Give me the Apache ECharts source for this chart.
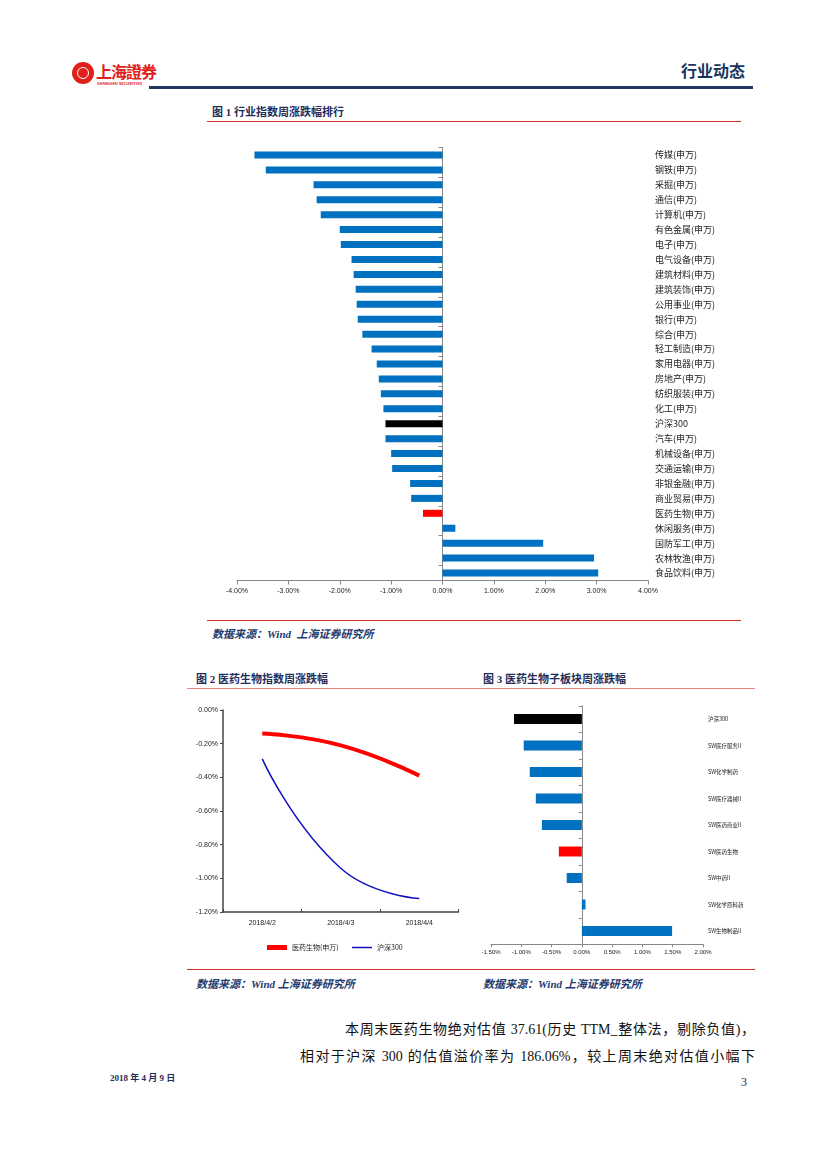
<!DOCTYPE html>
<html><head><meta charset="utf-8">
<script src="https://cdn.jsdelivr.net/npm/echarts@6/dist/echarts.min.js"></script>
<style>
html,body{margin:0;padding:0;background:#fff;}
body{width:827px;height:1169px;position:relative;overflow:hidden;font-family:"Noto Sans CJK SC","Liberation Serif",serif;}
.abs{position:absolute;}
.ttl{font-size:11px;font-weight:bold;color:#1F2D5A;white-space:nowrap;font-family:"Liberation Serif","Noto Sans CJK SC",serif;}
.src{font-size:11px;font-weight:bold;font-style:italic;color:#1F3A6E;white-space:nowrap;font-family:"Liberation Serif","Noto Sans CJK SC",serif;}
.body{font-size:14px;color:#111;white-space:nowrap;font-family:"Liberation Serif","Noto Sans CJK SC",serif;text-align:justify;text-align-last:justify;}
</style></head>
<body>
<!-- header -->
<div class="abs" style="left:72px;top:62px;width:22px;height:22px;border-radius:50%;background:#E0201B;"></div>
<div class="abs" style="left:77px;top:67px;width:12px;height:12px;border-radius:50%;border:1.5px solid #fff;box-sizing:border-box;"></div>
<div class="abs" style="left:96px;top:62px;font-size:16px;font-weight:bold;color:#E0201B;letter-spacing:-1px;font-family:'Noto Sans CJK SC';line-height:18px;">上海證券</div>
<div class="abs" style="left:97px;top:81px;font-size:4px;font-weight:bold;color:#E0201B;line-height:5px;white-space:nowrap;">SHANGHAI SECURITIES</div>
<div class="abs" style="left:681px;top:60px;font-size:16px;font-weight:bold;color:#17365D;font-family:'Noto Sans CJK SC';line-height:20px;">行业动态</div>
<div class="abs" style="left:149px;top:86px;width:604px;height:3px;background:#1F3864;"></div>

<!-- figure 1 -->
<div class="abs ttl" style="left:212px;top:103px;">图 1 行业指数周涨跌幅排行</div>
<div class="abs" style="left:207px;top:121px;width:534px;height:1px;background:#D9312B;"></div>
<div id="c1" class="abs" style="left:200px;top:140px;width:580px;height:470px;"></div>
<div class="abs" style="left:207px;top:620px;width:534px;height:1px;background:#D9312B;"></div>
<div class="abs src" style="left:212px;top:625px;">数据来源：Wind&nbsp;&nbsp;上海证券研究所</div>

<!-- figures 2 and 3 -->
<div class="abs ttl" style="left:196px;top:670px;">图 2 医药生物指数周涨跌幅</div>
<div class="abs ttl" style="left:483px;top:670px;">图 3 医药生物子板块周涨跌幅</div>
<div class="abs" style="left:187px;top:688px;width:568px;height:1px;background:#E8877F;"></div>
<div id="c2" class="abs" style="left:180px;top:695px;width:290px;height:265px;"></div>
<div id="c3" class="abs" style="left:470px;top:695px;width:290px;height:265px;"></div>
<div class="abs" style="left:187px;top:969px;width:568px;height:1px;background:#D9312B;"></div>
<div class="abs src" style="left:196px;top:975px;">数据来源：Wind 上海证券研究所</div>
<div class="abs src" style="left:483px;top:975px;">数据来源：Wind 上海证券研究所</div>

<!-- body text -->
<div class="abs body" style="left:345px;top:1018px;width:410px;">本周末医药生物绝对估值 37.61(历史 TTM_整体法，剔除负值)，</div>
<div class="abs body" style="left:300px;top:1045px;width:455px;">相对于沪深 300 的估值溢价率为 186.06%，较上周末绝对估值小幅下</div>

<!-- footer -->
<div class="abs" style="left:110px;top:1071px;font-size:9px;font-weight:bold;color:#1F2D5A;font-family:'Liberation Serif','Noto Sans CJK SC',serif;">2018 年 4 月 9 日</div>
<div class="abs" style="left:741px;top:1075px;font-size:12px;color:#1F2D5A;font-family:'Liberation Serif',serif;">3</div>

<script>
// ---------- data ----------
var industryNames = ['传媒(申万)','钢铁(申万)','采掘(申万)','通信(申万)','计算机(申万)','有色金属(申万)','电子(申万)','电气设备(申万)','建筑材料(申万)','建筑装饰(申万)','公用事业(申万)','银行(申万)','综合(申万)','轻工制造(申万)','家用电器(申万)','房地产(申万)','纺织服装(申万)','化工(申万)','沪深300','汽车(申万)','机械设备(申万)','交通运输(申万)','非银金融(申万)','商业贸易(申万)','医药生物(申万)','休闲服务(申万)','国防军工(申万)','农林牧渔(申万)','食品饮料(申万)'];
var industryValues = [-3.66,-3.44,-2.51,-2.45,-2.37,-2.00,-1.98,-1.77,-1.73,-1.69,-1.67,-1.65,-1.56,-1.38,-1.28,-1.24,-1.20,-1.15,-1.11,-1.11,-1.00,-0.98,-0.63,-0.61,-0.38,0.25,1.96,2.95,3.03];

var dates = ['2018/4/2','2018/4/3','2018/4/4'];
var medicineIndex = [-0.14,-0.21,-0.39];
var hs300Index = [-0.29,-0.94,-1.12];
var seriesNames = ['医药生物(申万)','沪深300'];

var subSectors = ['沪深300','SW医疗服务II','SW化学制药','SW医疗器械II','SW医药商业II','SW医药生物','SW中药II','SW化学原料药','SW生物制品II'];
var subValues = [-1.12,-0.96,-0.86,-0.76,-0.66,-0.38,-0.25,0.06,1.49];

var BLUE = '#0070C0', RED = '#FF0000', BLACK = '#000000', LINEBLUE = '#1010C0';
function colorFor(name){ if(name==='沪深300') return BLACK; if(name.indexOf('医药生物')>=0) return RED; return BLUE; }
function pct(v){ return v.toFixed(2)+'%'; }
var FONT = '"Liberation Sans","Noto Sans CJK SC",sans-serif';
var CJK = '"Noto Sans CJK SC",sans-serif';

// ---------- figure 1 ----------
var c1 = echarts.init(document.getElementById('c1'));
c1.setOption({
  animation:false,
  grid:{left:37, top:7.5, width:411, height:433},
  xAxis:{type:'value', min:-4, max:4, interval:1,
    axisLine:{show:true, onZero:false, lineStyle:{color:'#888',width:1}},
    axisTick:{show:true, length:4, lineStyle:{color:'#888'}},
    splitLine:{show:false},
    axisLabel:{fontSize:7, color:'#222', margin:7, fontFamily:FONT, formatter:function(v){return pct(v);}}},
  yAxis:[
    {type:'category', data:industryNames, inverse:true,
     axisLine:{show:true, onZero:true, lineStyle:{color:'#888',width:1}},
     axisTick:{show:true, length:4, inside:false, lineStyle:{color:'#888'}},
     axisLabel:{show:false}},
    {type:'category', data:industryNames, inverse:true, position:'right',
     axisLine:{show:false}, axisTick:{show:false},
     axisLabel:{show:true, fontSize:9, color:'#222', margin:7, align:'left', fontFamily:CJK}}
  ],
  series:[{type:'bar', yAxisIndex:0, barWidth:7,
    data:industryValues.map(function(v,i){return {value:v, itemStyle:{color:colorFor(industryNames[i])}};})}]
});

// ---------- figure 2 ----------
var c2 = echarts.init(document.getElementById('c2'));
c2.setOption({
  animation:false,
  grid:{left:43, top:15, width:235.5, height:202},
  legend:[
    {data:[seriesNames[0]], left:82, top:244, icon:'rect', itemWidth:20, itemHeight:5, itemGap:4,
     textStyle:{fontSize:7, color:'#222', fontFamily:CJK}},
    {data:[seriesNames[1]], left:167, top:244, icon:'rect', itemWidth:20, itemHeight:1.5, itemGap:4,
     textStyle:{fontSize:7, color:'#222', fontFamily:CJK}}
  ],
  xAxis:{type:'category', data:dates, boundaryGap:true,
    axisLine:{show:true, onZero:false, lineStyle:{color:'#444',width:1.5}},
    axisTick:{show:true, length:3, inside:true, lineStyle:{color:'#444'}},
    axisLabel:{fontSize:7, color:'#222', margin:8, fontFamily:FONT}},
  yAxis:{type:'value', min:-1.2, max:0, interval:0.2,
    axisLine:{show:true, lineStyle:{color:'#444',width:1.5}},
    axisTick:{show:true, length:3, lineStyle:{color:'#444'}},
    splitLine:{show:false},
    axisLabel:{fontSize:7, color:'#222', margin:5, fontFamily:FONT, formatter:function(v){return pct(v);}}},
  series:[
    {name:seriesNames[0], type:'line', data:medicineIndex, smooth:true, symbol:'none',
     lineStyle:{color:RED, width:4}, itemStyle:{color:RED}},
    {name:seriesNames[1], type:'line', data:hs300Index, smooth:true, symbol:'none',
     lineStyle:{color:LINEBLUE, width:1.5}, itemStyle:{color:LINEBLUE}}
  ]
});

// ---------- figure 3 ----------
var c3 = echarts.init(document.getElementById('c3'));
c3.setOption({
  animation:false,
  grid:{left:21, top:10.75, width:212, height:238.5},
  xAxis:{type:'value', min:-1.5, max:2, interval:0.5,
    axisLine:{show:true, onZero:false, lineStyle:{color:'#888',width:1}},
    axisTick:{show:true, length:3, lineStyle:{color:'#888'}},
    splitLine:{show:false},
    axisLabel:{fontSize:6, color:'#222', margin:5, fontFamily:FONT, formatter:function(v){return pct(v);}}},
  yAxis:[
    {type:'category', data:subSectors, inverse:true,
     axisLine:{show:true, onZero:true, lineStyle:{color:'#888',width:1}},
     axisTick:{show:true, length:3, lineStyle:{color:'#888'}},
     axisLabel:{show:false}},
    {type:'category', data:subSectors, inverse:true, position:'right',
     axisLine:{show:false}, axisTick:{show:false},
     axisLabel:{show:true, fontSize:5.5, color:'#222', margin:5, align:'left', fontFamily:CJK}}
  ],
  series:[{type:'bar', yAxisIndex:0, barWidth:10,
    data:subValues.map(function(v,i){return {value:v, itemStyle:{color:colorFor(subSectors[i])}};})}]
});
</script>
</body></html>
